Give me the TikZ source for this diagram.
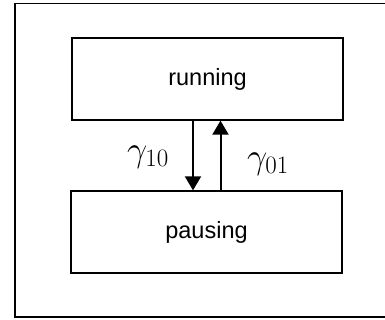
\RequirePackage{fix-cm}
\documentclass[tikz,border=0pt]{standalone}
\usepackage{fontspec}
\setsansfont{Liberation Sans}
\DeclareMathSizes{36}{36}{25}{18}
\usetikzlibrary{arrows.meta}
\begin{document}
\begin{tikzpicture}[x=1pt,y=1pt,
  state/.style={draw=black, line width=1.3pt, minimum width=271pt, minimum height=82pt,
                inner sep=0pt, font=\sffamily\fontsize{23.5}{28}\selectfont},
  trans/.style={line width=2pt, -{Triangle[length=14pt,width=16pt]}},
  rate/.style={inner sep=0pt, font=\fontsize{36}{40}\selectfont}]
  \useasboundingbox (0,0) rectangle (385,320);
  \clip (0,0) rectangle (385,320);
  % outer frame, running off the right edge
  \draw[line width=1.5pt] (400,316.5) -- (15,316.5) -- (15,3) -- (400,3);
  % the two states
  \node[state] (run)   at (207.5,241) {running};
  \node[state] (pause) at (206.5,88)  {pausing};
  % transitions between them
  \draw[trans] ([xshift=-14.5pt]run.south) -- ([xshift=-14.5pt]run.south |- pause.north);
  \draw[trans] ([xshift=14pt]pause.north) -- ([xshift=14pt]pause.north |- run.south);
  % rate labels
  \node[rate] (g10) at (148,163) {$\gamma_{10}$};
  \node[rate] (g01) at (268,156) {$\gamma_{01}$};
\end{tikzpicture}
\end{document}
